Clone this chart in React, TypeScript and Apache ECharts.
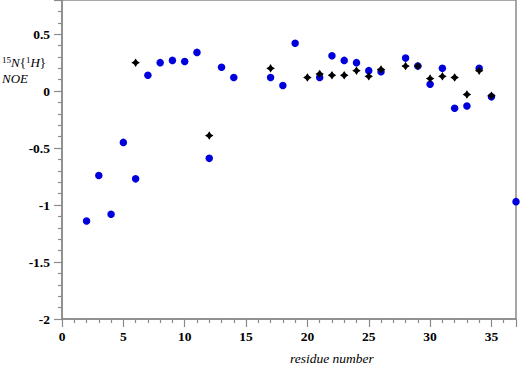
import React, { useEffect, useRef } from "react";
import * as echarts from "echarts";

const blueResidues = [2, 3, 4, 5, 6, 7, 8, 9, 10, 11, 12, 13, 14, 17, 18, 19, 21, 22, 23, 24, 25, 26, 28, 29, 30, 31, 32, 33, 34, 35, 37];
const blueNoe = [-1.14, -0.74, -1.08, -0.45, -0.77, 0.14, 0.25, 0.27, 0.26, 0.34, -0.59, 0.21, 0.12, 0.12, 0.05, 0.42, 0.12, 0.31, 0.27, 0.25, 0.18, 0.17, 0.29, 0.22, 0.06, 0.2, -0.15, -0.13, 0.2, -0.05, -0.97];

const blackResidues = [6, 12, 17, 20, 21, 22, 23, 24, 25, 26, 28, 29, 30, 31, 32, 33, 34, 35];
const blackNoe = [0.25, -0.39, 0.2, 0.12, 0.15, 0.14, 0.14, 0.18, 0.13, 0.19, 0.22, 0.22, 0.11, 0.13, 0.12, -0.03, 0.18, -0.04];

const X_MIN = 0, X_MAX = 37, X_MAJOR = 5;
const Y_MIN = -2, Y_MAX = 0.8, Y_MAJOR = 0.5;

const GREY = "#8a8a8a";
const SERIF = "Liberation Serif";

const isMultiple = (v: number, step: number) => Math.abs(v / step - Math.round(v / step)) < 1e-6;

export default function App() {
  const ref = useRef<HTMLDivElement>(null);
  useEffect(() => {
    if (!ref.current) return;
    const chart = echarts.init(ref.current, null, { renderer: "svg" });
    const labelStyle = { color: "#000", fontFamily: SERIF, fontWeight: 700, fontSize: 13.5 };
    chart.setOption({
      animation: false,
      backgroundColor: "#fff",
      textStyle: { fontFamily: SERIF },
      grid: { left: 62, right: 4, top: 0, bottom: 48, show: true, borderColor: GREY, borderWidth: 1.5, backgroundColor: "transparent" },
      xAxis: {
        type: "value", min: X_MIN, max: X_MAX, interval: X_MAJOR, position: "bottom",
        axisLine: { show: true, onZero: false, lineStyle: { color: GREY, width: 1.5 } },
        axisTick: { show: true, length: 8, lineStyle: { color: GREY, width: 1.2 } },
        minorTick: { show: true, splitNumber: 5, length: 4, lineStyle: { color: GREY, width: 1.2 } },
        axisLabel: {
          ...labelStyle, margin: 10,
          formatter: (v: number) => (isMultiple(v, X_MAJOR) && v < X_MAX ? String(v) : ""),
        },
        splitLine: { show: false },
        minorSplitLine: { show: false },
      },
      yAxis: {
        type: "value", min: Y_MIN, max: Y_MAX, interval: Y_MAJOR, position: "left",
        axisLine: { show: true, onZero: false, lineStyle: { color: GREY, width: 1.5 } },
        axisTick: { show: true, length: 8, lineStyle: { color: GREY, width: 1.2 } },
        minorTick: { show: true, splitNumber: 5, length: 4, lineStyle: { color: GREY, width: 1.2 } },
        axisLabel: {
          ...labelStyle, margin: 12,
          formatter: (v: number) => (isMultiple(v, Y_MAJOR) ? String(v) : ""),
        },
        splitLine: { show: false },
        minorSplitLine: { show: false },
      },
      graphic: [
        {
          type: "text", left: 2, top: 55,
          style: {
            text: "{sup|15}{it|N}{{sup|1}{it|H}}",
            font: `13px ${SERIF}`,
            fill: "#000",
            rich: {
              sup: { fontSize: 9, fontFamily: SERIF, padding: [0, 0, 6, 0] },
              it: { fontSize: 13, fontFamily: SERIF, fontStyle: "italic" },
            },
          },
        },
        {
          type: "text", left: 2, top: 72,
          style: { text: "NOE", font: `italic 13px ${SERIF}`, fill: "#000" },
        },
        {
          type: "text", left: 290, top: 351,
          style: { text: "residue number", font: `italic 13.5px ${SERIF}`, fill: "#000", textAlign: "center" },
        },
      ],
      series: [
        {
          type: "scatter", name: "blue",
          data: blueResidues.map((r, i) => [r, blueNoe[i]]),
          symbol: "circle", symbolSize: 7.5,
          itemStyle: { color: "#0000dd", opacity: 1 },
          z: 2,
        },
        {
          type: "scatter", name: "black",
          data: blackResidues.map((r, i) => [r, blackNoe[i]]),
          symbol: "path://M5,0 L7,3 L10,5 L7,7 L5,10 L3,7 L0,5 L3,3 Z",
          symbolSize: 8.5,
          itemStyle: { color: "#000", opacity: 1 },
          z: 3,
        },
      ],
    });
    return () => chart.dispose();
  }, []);
  return <div ref={ref} style={{ width: 520, height: 367, position: "absolute", left: 0, top: 0 }} />;
}
